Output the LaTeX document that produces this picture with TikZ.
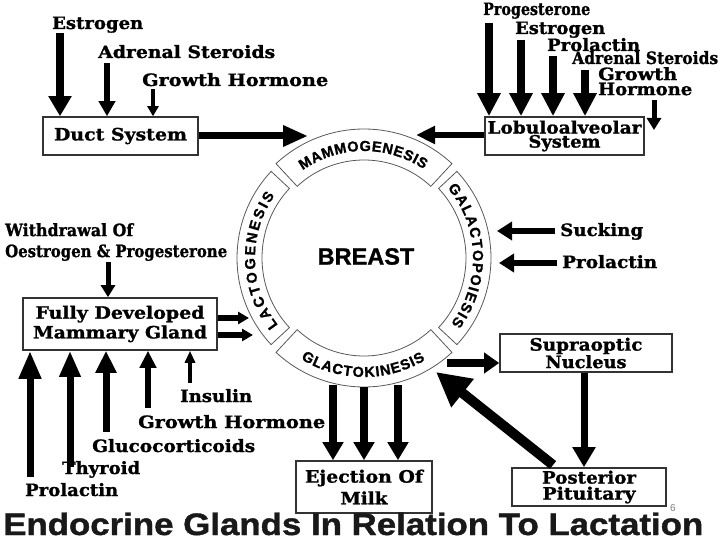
\documentclass[tikz,border=0pt]{standalone}
\usepackage{fontspec}
\setmainfont{DejaVu Serif}[BoldFeatures={FakeBold=1.2}]
\newfontfamily\hvfont{Liberation Sans}[BoldFeatures={FakeBold=1.2}]
\usetikzlibrary{arrows.meta,decorations.text}
\newcommand\fw[2]{\resizebox{#1pt}{\height}{#2}}
\newcommand\rfnt{\hvfont\bfseries\fontsize{14.5}{14.5}\selectfont}
\begin{document}
\begin{tikzpicture}[x=1pt,y=-1pt,
  lab/.style={font=\bfseries\fontsize{17}{17}\selectfont, inner sep=0pt, anchor=base west},
  mlab/.style={font=\bfseries\fontsize{17}{#1}\selectfont, inner sep=0pt, anchor=north west, align=left},
  box/.style={draw=black!80, line width=1.6pt, fill=white, inner sep=0pt, font=\bfseries\fontsize{17}{16}\selectfont, align=center},
  arr/.style args={#1/#2/#3}{draw=black, line width=#1, -{Triangle[width=#2,length=#3]}},
  band/.style={draw=black!65, line width=0.8pt, fill=white},
  ringtxt/.style={font=\rfnt, decorate, decoration={text along path, text={|\rfnt|#1}, text align={fit to path}}}
]
\useasboundingbox (0,0) rectangle (720,540);
\fill[white] (0,0) rectangle (720,540);

% ring
\coordinate (C) at (364,258);
\begin{scope}[shift={(C)}]
 \path[band] (47:129pt) arc[start angle=47,end angle=133,radius=129pt] -- (133:98pt) arc[start angle=133,end angle=47,radius=98pt] -- cycle;
 \path[band] (137:127pt) arc[start angle=137,end angle=223,radius=127pt] -- (223:102pt) arc[start angle=223,end angle=137,radius=102pt] -- cycle;
 \path[band] (227:129pt) arc[start angle=227,end angle=313,radius=129pt] -- (313:98pt) arc[start angle=313,end angle=227,radius=98pt] -- cycle;
 \path[band] (-43:127pt) arc[start angle=-43,end angle=43,radius=127pt] -- (43:102pt) arc[start angle=43,end angle=-43,radius=102pt] -- cycle;
 \path[ringtxt=MAMMOGENESIS] (125:107pt) arc[start angle=125,end angle=56,radius=107pt];
 \path[ringtxt=LACTOGENESIS] (218:109pt) arc[start angle=218,end angle=145,radius=109pt];
 \path[ringtxt=GALACTOPOIESIS] (40:109pt) arc[start angle=40,end angle=-37,radius=109pt];
 \path[ringtxt=GLACTOKINESIS] (238:119pt) arc[start angle=238,end angle=301,radius=119pt];
\end{scope}
\node[inner sep=0pt, font=\hvfont\bfseries\fontsize{23.5}{24}\selectfont] (breast) at (366,256.5) {BREAST};

% boxes
\node[box, minimum width=155pt, minimum height=38pt] (duct) at (120.5,136) {\fw{133}{Duct System}};
\node[box, minimum width=159pt, minimum height=38pt] (lobulo) at (564.5,136) {\fw{154}{Lobuloalveolar}\\[-2pt]\fw{72}{System}};
\node[box, minimum width=194pt, minimum height=52pt] (fully) at (120,324) {\fw{169}{Fully Developed}\\[2pt]\fw{174}{Mammary Gland}};
\node[box, minimum width=172pt, minimum height=38pt] (supra) at (586,353) {\fw{113}{Supraoptic}\\\fw{81}{Nucleus}};
\node[box, minimum width=154pt, minimum height=38pt] (post) at (589,487) {\fw{94}{Posterior}\\\fw{93}{Pituitary}};
\node[box, minimum width=136pt, minimum height=52pt] (eject) at (364,487) {\fw{118}{Ejection Of}\\[4pt]\fw{47}{Milk}};

% labels
\node[lab] (l1) at (52,29) {\fw{91}{Estrogen}};
\node[lab] (l2) at (98,58) {\fw{177}{Adrenal Steroids}};
\node[lab] (l3) at (142,86) {\fw{186}{Growth Hormone}};
\node[lab] (r1) at (483,15) {\fw{107}{Progesterone}};
\node[lab] (r2) at (515,34) {\fw{90}{Estrogen}};
\node[lab] (r3) at (547,51) {\fw{93}{Prolactin}};
\node[lab] (r4) at (572,64) {\fw{146}{Adrenal Steroids}};
\node[mlab=15pt] (r5) at (598,67) {\fw{79}{Growth}\\\fw{94}{Hormone}};
\node[mlab=21pt] (w1) at (5,223) {\fw{128}{Withdrawal Of}\\\fw{222}{Oestrogen \& Progesterone}};
\node[lab] (b1) at (180,402) {\fw{72}{Insulin}};
\node[lab] (b2) at (138,428) {\fw{187}{Growth Hormone}};
\node[lab] (b3) at (92,452) {\fw{163}{Glucocorticoids}};
\node[lab] (b4) at (62,474) {\fw{78}{Thyroid}};
\node[lab] (b5) at (25,496) {\fw{93}{Prolactin}};
\node[lab] (s1) at (560,236) {\fw{83}{Sucking}};
\node[lab] (s2) at (562,268) {\fw{95}{Prolactin}};

\node[inner sep=0pt, anchor=base west, font=\hvfont\bfseries\fontsize{31}{31}\selectfont, text=black!90] (title) at (3,535) {\fw{700}{Endocrine Glands In Relation To Lactation}};
\node[inner sep=0pt, font=\hvfont\fontsize{10}{10}\selectfont, text=black!50] (pg) at (673,508) {6};

% arrows top-left
\coordinate (a1) at (60,33);  \draw[arr=8pt/22pt/20pt] (a1) -- (a1 |- duct.north);
\coordinate (a2) at (107,63); \draw[arr=6pt/16pt/15pt] (a2) -- (a2 |- duct.north);
\coordinate (a3) at (153,89); \draw[arr=4pt/11pt/10pt] (a3) -- (a3 |- duct.north);
\coordinate (m1) at (308,136); \draw[arr=7pt/20pt/25pt] (duct.east) -- (m1);
% arrows top-right
\coordinate (c1) at (489,23); \draw[arr=8pt/22pt/23pt] (c1) -- (c1 |- lobulo.north);
\coordinate (c2) at (521,40); \draw[arr=8pt/22pt/23pt] (c2) -- (c2 |- lobulo.north);
\coordinate (c3) at (553,56); \draw[arr=8pt/22pt/23pt] (c3) -- (c3 |- lobulo.north);
\coordinate (c4) at (585,70); \draw[arr=8pt/22pt/23pt] (c4) -- (c4 |- lobulo.north);
\coordinate (c5) at (654,100); \coordinate (c6) at (654,130); \draw[arr=5pt/14pt/12pt] (c5) -- (c6);
\coordinate (m2) at (416,135); \draw[arr=6pt/17pt/19pt] (m2 -| lobulo.west) -- (m2);
% arrows left
\coordinate (w) at (108,262); \draw[arr=5pt/14pt/12pt] (w) -- (w |- fully.north);
\coordinate (f1) at (249,318); \draw[arr=6pt/12pt/11pt] (f1 -| fully.east) -- (f1);
\coordinate (f2) at (253,335); \draw[arr=6pt/12pt/11pt] (f2 -| fully.east) -- (f2);
\coordinate (u1) at (30,477);  \draw[arr=7pt/21pt/28pt] (u1) -- (u1 |- fully.south);
\coordinate (u2) at (70,467);  \draw[arr=7pt/20pt/26pt] (u2) -- (u2 |- fully.south);
\coordinate (u3) at (106,432); \draw[arr=7pt/20pt/22pt] (u3) -- (u3 |- fully.south);
\coordinate (u4) at (148,408); \draw[arr=6pt/16pt/17pt] (u4) -- (u4 |- fully.south);
\coordinate (u5) at (190,383); \draw[arr=4pt/10pt/12pt] (u5) -- (u5 |- fully.south);
% arrows right
\coordinate (k1) at (555,231); \coordinate (k2) at (497,231); \draw[arr=6pt/18pt/15pt] (k1) -- (k2);
\coordinate (k3) at (557,263); \coordinate (k4) at (499,263); \draw[arr=6pt/18pt/15pt] (k3) -- (k4);
\coordinate (g1) at (447,363); \draw[arr=8pt/20pt/15pt] (g1) -- (g1 -| supra.west);
\coordinate (v1) at (584,0); \draw[arr=7pt/22pt/20pt] (v1 |- supra.south) -- (v1 |- post.north);
\coordinate (p1) at (553,465); \coordinate (p2) at (436,372); \draw[arr=10pt/34pt/34pt] (p1) -- (p2);
\coordinate (e1) at (333,385); \draw[arr=8pt/20pt/18pt] (e1) -- (e1 |- eject.north);
\coordinate (e2) at (364,387); \draw[arr=8pt/20pt/18pt] (e2) -- (e2 |- eject.north);
\coordinate (e3) at (398,385); \draw[arr=8pt/20pt/18pt] (e3) -- (e3 |- eject.north);
\end{tikzpicture}
\end{document}
